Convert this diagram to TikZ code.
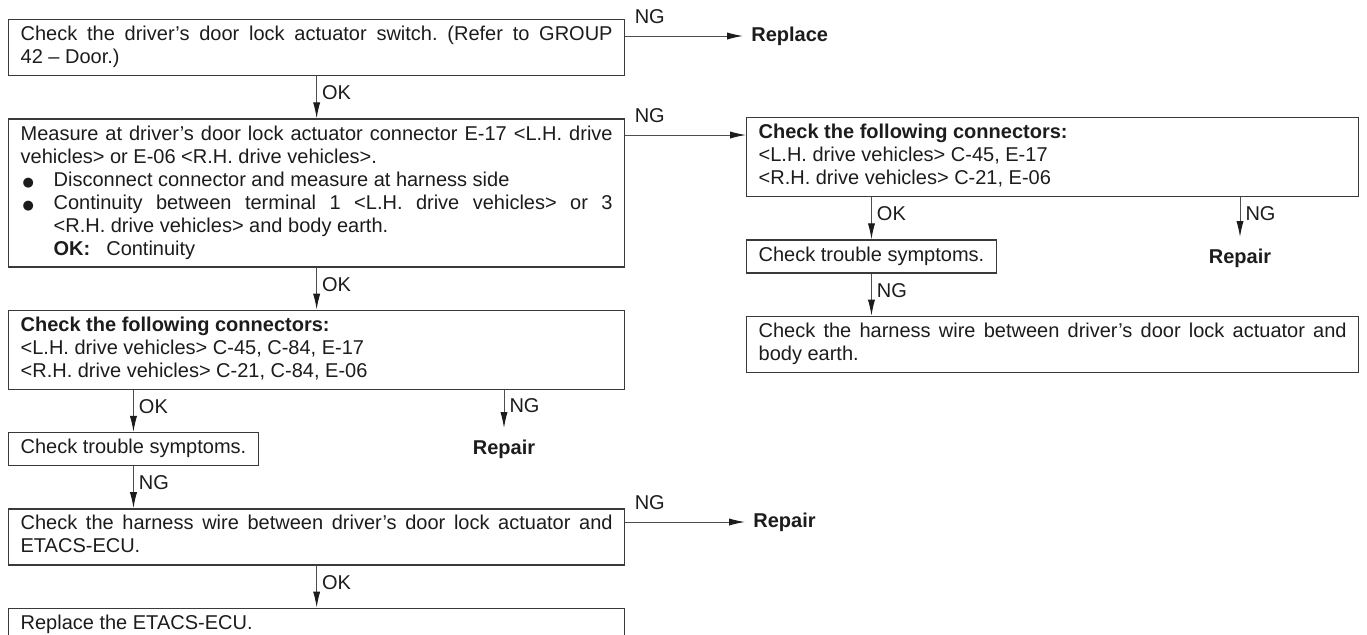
\documentclass[tikz,border=0pt]{standalone}
\usepackage{fontspec}
\setmainfont{Liberation Sans}
\newfontfamily\dotfont{DejaVu Sans}
\usetikzlibrary{arrows.meta,positioning,calc}
\setlength{\parindent}{0pt}
\hyphenpenalty=10000
\exhyphenpenalty=10000
\frenchspacing
\definecolor{ink}    {HTML}{1C1C1C}
\definecolor{boxline}{HTML}{3A3A3A}
\definecolor{wire}   {HTML}{4E4E4E}
\newcommand{\bulletmark}{\makebox[16.5pt][l]{\hspace{1pt}{\dotfont\fontsize{6.5}{6.5}\selectfont ●}}}
\tikzset{
  checkbox/.style={
    rectangle, draw=boxline, line width=0.65pt,
    text=ink, font=\fontsize{10}{11.5}\selectfont, align=justify,
    inner xsep=6pt, inner ysep=2.5pt, anchor=north west,
    execute at begin node=\strut, execute at end node=\strut
  },
  widebox/.style={checkbox, text width=296pt},
  rightbox/.style={checkbox, text width=294pt},
  shortbox/.style={checkbox, align=left},
  flowarrow/.style={
    -{Latex[length=8pt, width=3.6pt, color=ink]}, line width=0.5pt, draw=wire
  },
  flowlabel/.style={font=\fontsize{10}{11.5}\selectfont, text=ink, inner sep=0pt},
  vlabel/.style={flowlabel, pos=0.4, anchor=west, xshift=2.5pt},
  hlabel/.style={flowlabel, pos=0, anchor=south west, xshift=4.5pt, yshift=6pt},
  endnode/.style={font=\fontsize{10}{11.5}\selectfont\bfseries, text=ink, inner xsep=4pt, inner ysep=6pt}
}

\begin{document}
\begin{tikzpicture}[x=0.5pt, y=-0.5pt, node distance=21pt]
  \useasboundingbox (0,0) rectangle (1367,634);

  % main column
  \node[widebox] (sw) at (8,19) {Check the driver's door lock actuator switch. (Refer to GROUP\linebreak 42 -- Door.)};
  \node[widebox, below=of sw.south west, anchor=north west] (meas) {Measure at driver's door lock actuator connector E-17 <L.H. drive\linebreak vehicles> or E-06 <R.H. drive vehicles>.\par
    \hangindent=16.5pt\hangafter=1
    \bulletmark Disconnect connector and measure at harness side\par
    \hangindent=16.5pt\hangafter=1
    \bulletmark Continuity between terminal 1 <L.H. drive vehicles> or 3\linebreak <R.H. drive vehicles> and body earth.\par
    \hspace*{16.5pt}\textbf{OK:}\hspace{8pt}Continuity};
  \node[widebox, below=of meas.south west, anchor=north west] (conL) {\textbf{Check the following connectors:}\\<L.H. drive vehicles> C-45, C-84, E-17\\<R.H. drive vehicles> C-21, C-84, E-06};
  \node[shortbox, below=of conL.south west, anchor=north west] (symL) {Check trouble symptoms.};
  \node[widebox, below=of symL.south west, anchor=north west] (wireL) {Check the harness wire between driver's door lock actuator and ETACS-ECU.};
  \node[widebox, below=of wireL.south west, anchor=north west] (ecu) {Replace the ETACS-ECU.};

  \node[endnode, anchor=west] (rpl) at (743,36) {Replace};
  \node[endnode, anchor=north] (repL) at (504,428) {Repair};
  \node[endnode, anchor=west] (repB) at (745,522) {Repair};

  % side column
  \node[rightbox] (conR) at (746,117) {\textbf{Check the following connectors:}\\<L.H. drive vehicles> C-45, E-17\\<R.H. drive vehicles> C-21, E-06};
  \node[shortbox, below=of conR.south west, anchor=north west] (symR) {Check trouble symptoms.};
  \node[rightbox, below=of symR.south west, anchor=north west] (wireR) {Check the harness wire between driver's door lock actuator and body earth.};
  \node[endnode, anchor=north] (repR) at (1240,237) {Repair};
  \coordinate (conRin) at ($(conR.north west)+(0,18)$);

  % connectors
  \draw[flowarrow] (sw.east |- rpl) -- (rpl.west) node[hlabel]{NG};
  \draw[flowarrow] (sw) -- (meas) node[vlabel]{OK};
  \draw[flowarrow] (meas.east |- conRin) -- (conRin) node[hlabel]{NG};
  \draw[flowarrow] (meas) -- (conL) node[vlabel]{OK};
  \draw[flowarrow] (conL.south -| symL) -- (symL) node[vlabel]{OK};
  \draw[flowarrow] (conL.south -| repL) -- (repL.north) node[vlabel]{NG};
  \draw[flowarrow] (symL) -- (wireL.north -| symL) node[vlabel]{NG};
  \draw[flowarrow] (wireL.east |- repB) -- (repB.west) node[hlabel]{NG};
  \draw[flowarrow] (wireL) -- (ecu) node[vlabel]{OK};
  \draw[flowarrow] (conR.south -| symR) -- (symR) node[vlabel]{OK};
  \draw[flowarrow] (conR.south -| repR) -- (repR.north) node[vlabel]{NG};
  \draw[flowarrow] (symR) -- (wireR.north -| symR) node[vlabel]{NG};
\end{tikzpicture}
\end{document}
